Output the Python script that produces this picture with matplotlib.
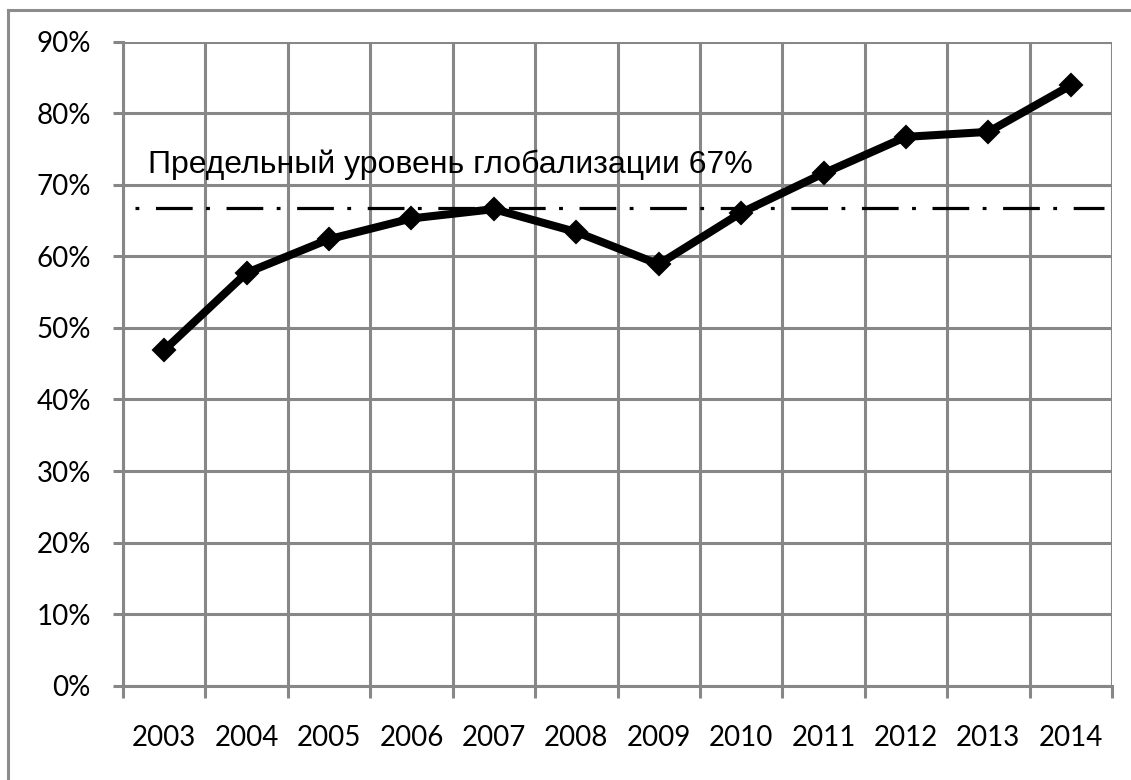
import numpy as np
import matplotlib.pyplot as plt
from matplotlib.lines import Line2D
from matplotlib.ticker import FixedLocator, PercentFormatter

years = ['2003', '2004', '2005', '2006', '2007', '2008',
         '2009', '2010', '2011', '2012', '2013', '2014']
# share of global trade, fraction
level = [0.469, 0.577, 0.624, 0.653, 0.666, 0.634,
         0.589, 0.661, 0.716, 0.767, 0.774, 0.839]
limit_level = 0.667
limit_label = 'Предельный уровень глобализации 67%'

grid_col = '#878787'

fig = plt.figure(figsize=(11.31, 7.80), dpi=100)
ax = fig.add_axes([123/1131, 1 - 685.7/780, (1112 - 123)/1131, (685.7 - 41.7)/780])

x = np.arange(len(years))

# grid on category boundaries and every 10%
for b in np.arange(-0.5, len(years), 1.0):
    ax.axvline(b, color=grid_col, lw=2.2, zorder=1, solid_capstyle='projecting')
for v in np.arange(0, 0.91, 0.1):
    ax.axhline(v, color=grid_col, lw=2.2, zorder=1, solid_capstyle='projecting')

# threshold line, starts on the dot of the dash-dot pattern
ax.hlines(limit_level, -0.35, 11.4, colors='black', lw=2.3,
          linestyles=[(15.7, (11.5, 4.2, 1.2, 5.2))], zorder=2)
ax.text(-0.195, 0.716, limit_label, fontsize=23,
        family='Liberation Sans', ha='left', va='baseline', zorder=3)

ax.plot(x, level, color='black', lw=5.8, marker='D', ms=11, mew=1.5,
        mfc='black', mec='black', zorder=4, solid_joinstyle='round')

ax.set_xlim(-0.5, len(years) - 0.5)
ax.set_ylim(0, 0.9)

ax.set_xticks(x)
ax.set_xticklabels(years, family='Lato', fontsize=20, color='black')
ax.xaxis.set_minor_locator(FixedLocator(np.arange(-0.5, len(years), 1.0)))
ax.tick_params(axis='x', which='major', length=0, pad=28)
ax.tick_params(axis='x', which='minor', length=8.6, width=2.2, color=grid_col)

ax.set_yticks(np.arange(0, 0.91, 0.1))
ax.yaxis.set_major_formatter(PercentFormatter(1.0, decimals=0))
for lab in ax.get_yticklabels():
    lab.set_family('Lato')
    lab.set_fontsize(20)
ax.tick_params(axis='y', which='major', length=7.2, width=2.2, color=grid_col, pad=16)

for side in ['top', 'right']:
    ax.spines[side].set_visible(False)
for side in ['bottom', 'left']:
    ax.spines[side].set_color(grid_col)
    ax.spines[side].set_linewidth(2.2)

# outer chart frame
fig.add_artist(Line2D([8/1131, 1.0], [1 - 10/780, 1 - 10/780], color='#8c8c8c', lw=2.2))
fig.add_artist(Line2D([8/1131, 8/1131], [0, 1 - 10/780], color='#8c8c8c', lw=2.2))

fig.savefig('out.png', dpi=100)
